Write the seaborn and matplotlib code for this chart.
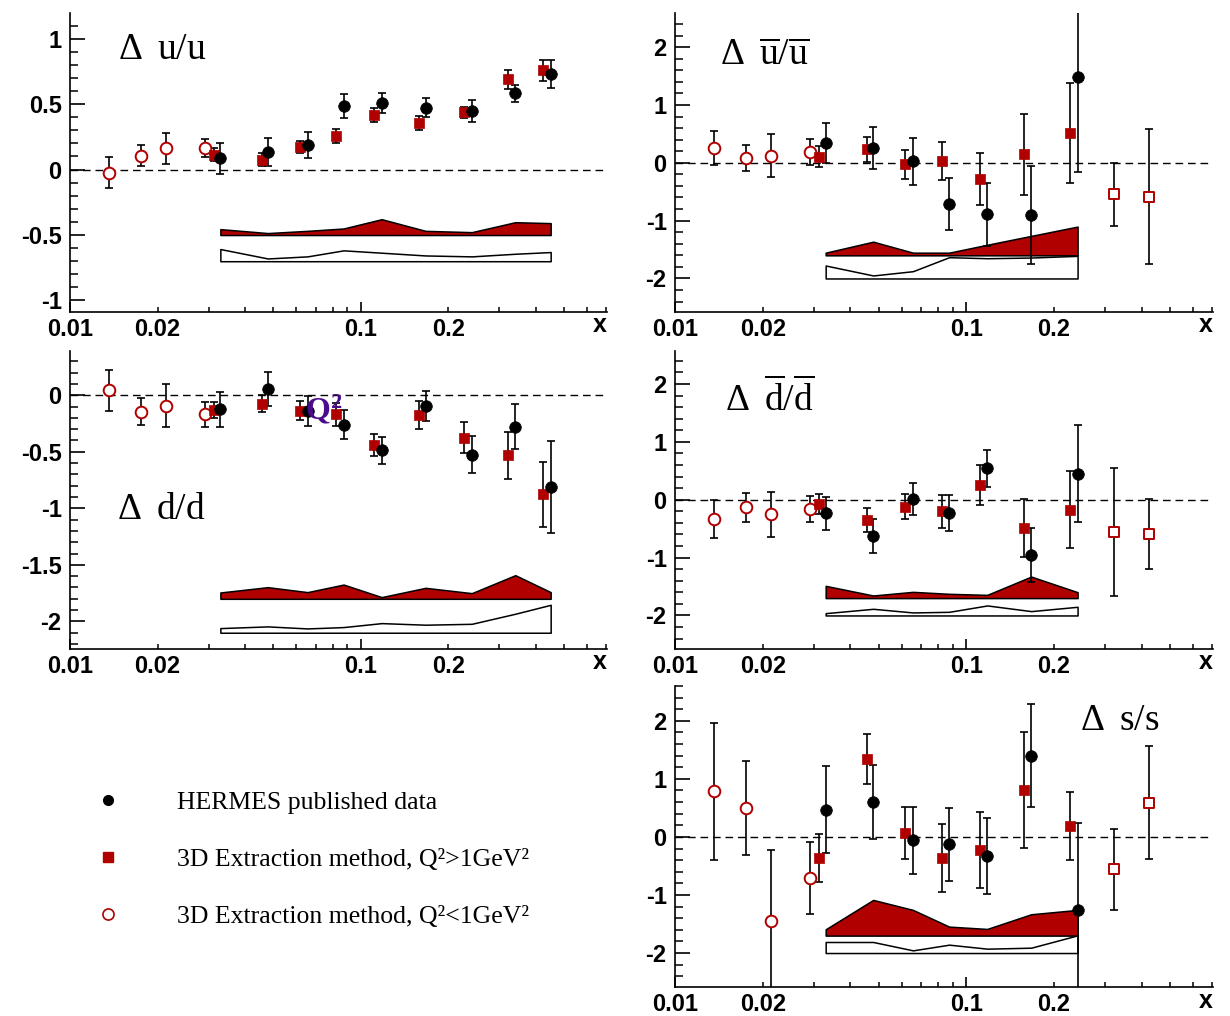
import numpy as np
import pandas as pd
import matplotlib
matplotlib.use("Agg")
import matplotlib.pyplot as plt
import seaborn as sns
from matplotlib.ticker import FixedLocator, FuncFormatter, MultipleLocator
from matplotlib.lines import Line2D

# ---------------- data ----------------
x_low = [0.0136, 0.0175, 0.0214, 0.0291]                      # 3D, Q2<1 GeV2
x_3d = [0.0312, 0.0456, 0.0616, 0.0825, 0.1115, 0.158, 0.227, 0.322, 0.425]
x_hermes = [0.0329, 0.0479, 0.0656, 0.0873, 0.118, 0.167, 0.241, 0.340, 0.450]

# Delta u / u
u_low = [-0.023, 0.107, 0.163, 0.163]
u_low_err = [0.12, 0.08, 0.12, 0.07]
u_3d = [0.112, 0.074, 0.173, 0.254, 0.414, 0.356, 0.437, 0.691, 0.757]
u_3d_err = [0.05, 0.05, 0.047, 0.053, 0.053, 0.055, 0.04, 0.073, 0.077]
u_her = [0.086, 0.135, 0.188, 0.485, 0.508, 0.473, 0.445, 0.582, 0.727]
u_her_err = [0.118, 0.11, 0.1, 0.09, 0.077, 0.075, 0.085, 0.064, 0.107]
u_sys3d = [0.045, 0.015, 0.032, 0.05, 0.121, 0.032, 0.022, 0.098, 0.091]
u_sysher = [0.093, 0.021, 0.037, 0.083, 0.065, 0.044, 0.037, 0.057, 0.07]

# Delta ubar / ubar
ub_low = [0.259, 0.086, 0.126, 0.19]
ub_low_err = [0.29, 0.22, 0.37, 0.23]
ub_3d = [0.103, 0.23, -0.023, 0.034, -0.282, 0.144, 0.517, -0.546, -0.586]
ub_3d_err = [0.18, 0.21, 0.25, 0.33, 0.445, 0.7, 0.87, 0.55, 1.17]
ub_her = [0.345, 0.253, 0.023, -0.713, -0.891, -0.897, 1.477]
ub_her_err = [0.34, 0.365, 0.4, 0.455, 0.55, 0.845, 1.64]
ub_sys3d = [0.046, 0.236, 0.046, 0.046, 0.183, 0.336, 0.497]
ub_sysher = [0.224, 0.052, 0.126, 0.368, 0.35, 0.362, 0.391]

# Delta d / d
d_low = [0.044, -0.147, -0.091, -0.168]
d_low_err = [0.18, 0.12, 0.19, 0.11]
d_3d = [-0.132, -0.074, -0.138, -0.168, -0.441, -0.174, -0.374, -0.532, -0.876]
d_3d_err = [0.07, 0.078, 0.084, 0.1, 0.1, 0.123, 0.136, 0.21, 0.29]
d_her = [-0.124, 0.056, -0.138, -0.259, -0.488, -0.094, -0.524, -0.279, -0.815]
d_her_err = [0.154, 0.147, 0.13, 0.128, 0.118, 0.134, 0.166, 0.2, 0.407]
d_sys3d = [0.056, 0.103, 0.059, 0.126, 0.015, 0.097, 0.05, 0.209, 0.059]
d_sysher = [0.041, 0.056, 0.038, 0.05, 0.085, 0.071, 0.079, 0.168, 0.247]

# Delta dbar / dbar
db_low = [-0.333, -0.132, -0.253, -0.155]
db_low_err = [0.333, 0.245, 0.39, 0.224]
db_3d = [-0.075, -0.351, -0.121, -0.201, 0.253, -0.483, -0.172, -0.557, -0.592]
db_3d_err = [0.17, 0.2, 0.215, 0.29, 0.34, 0.5, 0.66, 1.1, 0.6]
db_her = [-0.23, -0.626, 0.011, -0.224, 0.54, -0.954, 0.448]
db_her_err = [0.285, 0.29, 0.28, 0.31, 0.316, 0.46, 0.84]
db_sys3d = [0.212, 0.045, 0.108, 0.074, 0.056, 0.372, 0.102]
db_sysher = [0.04, 0.115, 0.052, 0.063, 0.173, 0.075, 0.15]

# Delta s / s
s_low = [0.787, 0.506, -1.454, -0.707]
s_low_err = [1.18, 0.81, 1.23, 0.62]
s_3d = [-0.362, 1.339, 0.063, -0.362, -0.224, 0.805, 0.19, -0.557, 0.592]
s_3d_err = [0.42, 0.43, 0.45, 0.58, 0.65, 1.0, 0.59, 0.7, 0.98]
s_her = [0.471, 0.603, -0.057, -0.126, -0.333, 1.397, -1.264]
s_her_err = [0.75, 0.635, 0.58, 0.63, 0.655, 0.89, 1.5]
s_sys3d = [0.109, 0.615, 0.443, 0.155, 0.115, 0.368, 0.443]
s_sysher = [0.19, 0.19, 0.046, 0.144, 0.075, 0.092, 0.305]

legend_labels = ["HERMES published data",
                 "3D Extraction method, Q\u00b2>1GeV\u00b2",
                 "3D Extraction method, Q\u00b2<1GeV\u00b2"]
x_tick_labels = {0.01: "0.01", 0.02: "0.02", 0.1: "0.1", 0.2: "0.2"}

# ---------------- style ----------------
sns.set_theme(style="ticks")
plt.rcParams.update({
    "font.family": ["Liberation Sans", "DejaVu Sans"],
    "font.weight": "bold",
    "text.color": "black",
    "axes.labelcolor": "black",
    "axes.unicode_minus": False,
    "mathtext.fontset": "custom",
    "mathtext.rm": "Liberation Serif:weight=normal",
    "mathtext.it": "Liberation Serif:style=italic:weight=normal",
    "mathtext.bf": "Liberation Serif:weight=bold",
    "axes.linewidth": 1.2,
    "axes.edgecolor": "black",
    "xtick.color": "black",
    "ytick.color": "black",
    "xtick.labelsize": 17,
    "ytick.labelsize": 17,
})

RED = "#b00000"
XMIN, XMAX = 0.01, 0.703
fig = plt.figure(figsize=(12.3, 10.16), dpi=100)


def yfmt(v, p):
    if abs(v) < 1e-9:
        return "0"
    return f"{v:g}"


def xfmt(v, p):
    for k, s in x_tick_labels.items():
        if abs(v - k) < 1e-9:
            return s
    return ""


def panel(rect, ylim, ymaj, ymin, label, lpos, ylow, elow, y3d, e3d, nfill,
          yher, eher, sys3d, base3d, sysher, baseher):
    ax = fig.add_axes(rect)
    ax.set_xscale("log")
    ax.set_xlim(XMIN, XMAX)
    ax.set_ylim(*ylim)
    sns.despine(ax=ax)

    ax.axhline(0, color="black", lw=1.0, ls=(0, (5.5, 3.5)), zorder=1)

    # systematic bands
    nb = len(sys3d)
    xb = np.array(x_hermes[:nb])
    ax.fill_between(xb, base3d, base3d + np.array(sys3d), facecolor=RED,
                    edgecolor="black", lw=1.1, zorder=2)
    ax.fill_between(xb, baseher, baseher + np.array(sysher), facecolor="white",
                    edgecolor="black", lw=1.1, zorder=2)

    ekw = dict(fmt="none", ecolor="black", elinewidth=1.2, capsize=2.6,
               capthick=1.2, zorder=3)
    # open circles (Q2<1)
    ax.errorbar(x_low, ylow, yerr=elow, **ekw)
    sns.scatterplot(x=x_low, y=ylow, ax=ax, marker="o", s=70, color="white",
                    edgecolor=RED, linewidth=1.4, zorder=4)
    # 3D filled squares
    x3 = x_3d[:len(y3d)]
    ax.errorbar(x3, y3d, yerr=e3d, **ekw)
    sns.scatterplot(x=x3[:nfill], y=y3d[:nfill], ax=ax, marker="s", s=62,
                    color=RED, edgecolor=RED, linewidth=0.5, zorder=4)
    if nfill < len(y3d):
        sns.scatterplot(x=x3[nfill:], y=y3d[nfill:], ax=ax, marker="s", s=62,
                        color="white", edgecolor=RED, linewidth=1.4, zorder=4)
    # HERMES
    xh = x_hermes[:len(yher)]
    ax.errorbar(xh, yher, yerr=eher, **ekw)
    sns.scatterplot(x=xh, y=yher, ax=ax, marker="o", s=70, color="black",
                    edgecolor="black", linewidth=0.5, zorder=5)

    # ticks
    ax.yaxis.set_major_locator(MultipleLocator(ymaj))
    ax.yaxis.set_minor_locator(MultipleLocator(ymin))
    ax.yaxis.set_major_formatter(FuncFormatter(yfmt))
    ax.xaxis.set_major_locator(FixedLocator([0.01, 0.1]))
    ax.xaxis.set_minor_locator(FixedLocator(
        [0.02, 0.03, 0.04, 0.05, 0.06, 0.07, 0.08, 0.09,
         0.2, 0.3, 0.4, 0.5, 0.6, 0.7]))
    ax.xaxis.set_major_formatter(FuncFormatter(xfmt))
    ax.xaxis.set_minor_formatter(FuncFormatter(xfmt))
    ax.tick_params(axis="y", which="major", direction="in", length=11,
                   width=1.2, pad=6)
    ax.tick_params(axis="y", which="minor", direction="in", length=5.5,
                   width=1.1)
    ax.tick_params(axis="x", which="major", direction="in", length=7,
                   width=1.2, pad=4, labelsize=17)
    ax.tick_params(axis="x", which="minor", direction="in", length=3.5,
                   width=1.1, pad=4, labelsize=17)
    for t in ax.get_xticklabels(which="both") + ax.get_yticklabels():
        t.set_fontweight("bold")
    ax.grid(False)

    ax.text(0.987, -0.045, "x", transform=ax.transAxes, ha="center",
            va="center", fontsize=18, fontweight="bold")
    ax.text(lpos[0], lpos[1], label, transform=ax.transAxes, ha="left",
            va="center", fontsize=27, color="black", fontweight="normal")
    return ax


W1, W2 = 0.4366, 0.4374
ax1 = panel([0.0569, 0.6929, W1, 0.2943], (-1.088, 1.196), 0.5, 0.1,
            r"$\Delta\;\;\mathrm{u/u}$", (0.089, 0.880),
            u_low, u_low_err, u_3d, u_3d_err, 9, u_her, u_her_err,
            u_sys3d, -0.5, u_sysher, -0.7)
ax2 = panel([0.5488, 0.6929, W2, 0.2943], (-2.58, 2.59), 1, 0.2,
            r"$\Delta\;\;\overline{\mathrm{u}}/\overline{\mathrm{u}}$", (0.084, 0.860),
            ub_low, ub_low_err, ub_3d, ub_3d_err, 7, ub_her, ub_her_err,
            ub_sys3d, -1.6, ub_sysher, -2.0)
ax3 = panel([0.0569, 0.3612, W1, 0.2933], (-2.244, 0.391), 0.5, 0.1,
            r"$\Delta\;\;\mathrm{d/d}$", (0.087, 0.470),
            d_low, d_low_err, d_3d, d_3d_err, 9, d_her, d_her_err,
            d_sys3d, -1.8, d_sysher, -2.1)
ax4 = panel([0.5488, 0.3612, W2, 0.2933], (-2.58, 2.57), 1, 0.2,
            r"$\Delta\;\;\overline{\mathrm{d}}/\overline{\mathrm{d}}$", (0.093, 0.839),
            db_low, db_low_err, db_3d, db_3d_err, 7, db_her, db_her_err,
            db_sys3d, -1.7, db_sysher, -2.0)
ax5 = panel([0.5488, 0.0285, W2, 0.2963], (-2.586, 2.6), 1, 0.2,
            r"$\Delta\;\;\mathrm{s/s}$", (0.753, 0.887),
            s_low, s_low_err, s_3d, s_3d_err, 7, s_her, s_her_err,
            s_sys3d, -1.7, s_sysher, -2.0)

ax3.text(0.0745, -0.13, r"$\mathbf{Q^2}$", color="#4b0c8c", fontsize=23,
         ha="center", va="center", zorder=6)

handles = [
    Line2D([], [], ls="none", marker="o", color="black", markersize=7),
    Line2D([], [], ls="none", marker="s", color=RED, markersize=7),
    Line2D([], [], ls="none", marker="o", markerfacecolor="white",
           markeredgecolor=RED, markeredgewidth=1.2, markersize=8),
]
fig.legend(handles, legend_labels, loc="upper left",
           bbox_to_anchor=(0.0774, 0.2215), frameon=False, handlelength=1.0,
           handletextpad=2.18, labelspacing=1.33, borderpad=0, borderaxespad=0,
           prop={"family": "Liberation Serif", "weight": "normal", "size": 18.5})

fig.savefig("out.png", dpi=100, facecolor="white")
